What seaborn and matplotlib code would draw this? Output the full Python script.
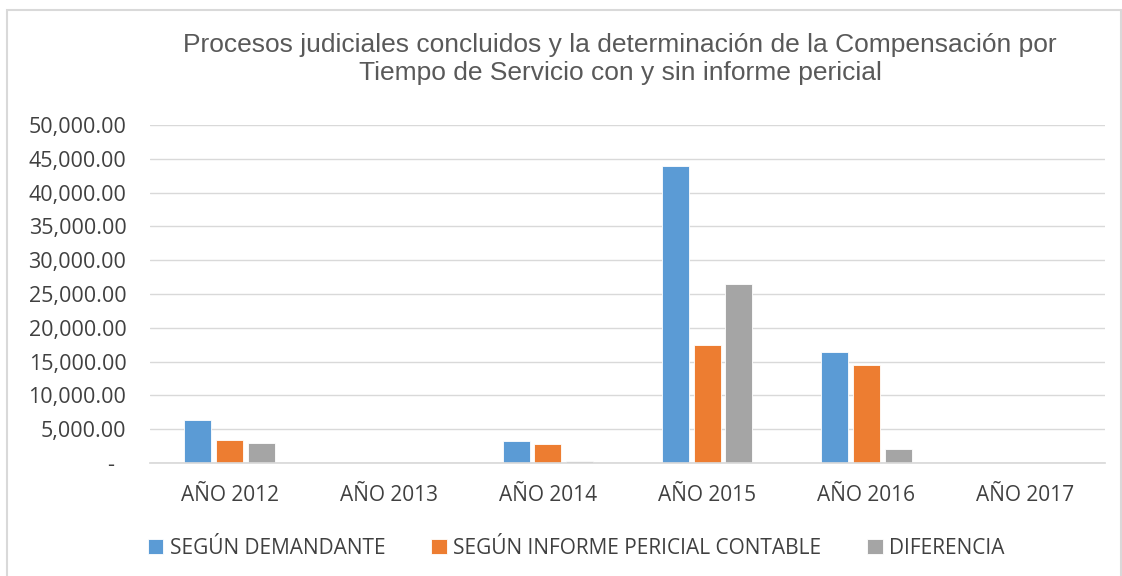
import matplotlib
matplotlib.use("Agg")
import matplotlib.pyplot as plt
import seaborn as sns
import pandas as pd
from matplotlib.patches import Rectangle
from matplotlib.ticker import FuncFormatter

categories = ["AÑO 2012", "AÑO 2013", "AÑO 2014", "AÑO 2015", "AÑO 2016", "AÑO 2017"]
series_names = ["SEGÚN DEMANDANTE", "SEGÚN INFORME PERICIAL CONTABLE", "DIFERENCIA"]
demandante = [6400, 0, 3250, 44000, 16450, 0]
pericial = [3400, 0, 2850, 17450, 14450, 0]
diferencia = [3000, 0, 350, 26550, 2000, 0]
colors = ["#5b9bd5", "#ed7d31", "#a5a5a5"]

rows = []
for name, vals in zip(series_names, [demandante, pericial, diferencia]):
    for c, v in zip(categories, vals):
        rows.append({"cat": c, "serie": name, "valor": v})
df = pd.DataFrame(rows)

sns.set_theme(style="white")
plt.rcParams['font.family'] = ['Liberation Sans', 'DejaVu Sans']

fig = plt.figure(figsize=(11.22, 5.76), dpi=100)
ax = fig.add_axes([150/1122, 1-463/576, 955/1122, 338/576])

sns.barplot(data=df, x="cat", y="valor", hue="serie", palette=colors,
            order=categories, hue_order=series_names, width=0.6, gap=0.15,
            ax=ax, legend=True, saturation=1, edgecolor="white", linewidth=0.6)

ax.set_ylim(0, 50000)
ax.set_yticks(range(0, 50001, 5000))
ax.yaxis.set_major_formatter(FuncFormatter(lambda v, p: "-  " if v == 0 else f"{v:,.2f}"))
ax.grid(axis="y", color="#d9d9d9", linewidth=1)
ax.set_axisbelow(True)
for s in ["top", "right", "left"]:
    ax.spines[s].set_visible(False)
ax.spines["bottom"].set_color("#d9d9d9")
ax.set_xlabel("")
ax.set_ylabel("")
ax.tick_params(axis="x", length=0, labelsize=15, colors="#404040", pad=16)
ax.tick_params(axis="y", length=0, labelsize=15.5, colors="#404040", pad=17)
for lbl in ax.get_xticklabels() + ax.get_yticklabels():
    lbl.set_family(['Open Sans', 'DejaVu Sans'])
ax.set_xlim(-0.5, 5.5)

handles, labels = ax.get_legend_handles_labels()
ax.legend_.remove()
fig.legend(handles, labels, loc="center", bbox_to_anchor=(576/1122, 1-548/576), ncol=3,
           frameon=False, handlelength=0.75, handleheight=0.75, handletextpad=0.3,
           columnspacing=2.2, prop={'family': ['Open Sans', 'DejaVu Sans'], 'size': 15},
           labelcolor="#404040")

fig.text(620/1122, 1-59/576,
         "Procesos judiciales concluidos y la determinación de la Compensación por\nTiempo de Servicio con y sin informe pericial",
         ha="center", va="center", fontsize=19, color="#595959", linespacing=1.2)

fig.patches.append(Rectangle((7/1122, -10/576), 1114/1122, 576/576, transform=fig.transFigure,
                             fill=False, edgecolor="#d9d9d9", linewidth=1.5))

fig.savefig("out.png", dpi=100)
